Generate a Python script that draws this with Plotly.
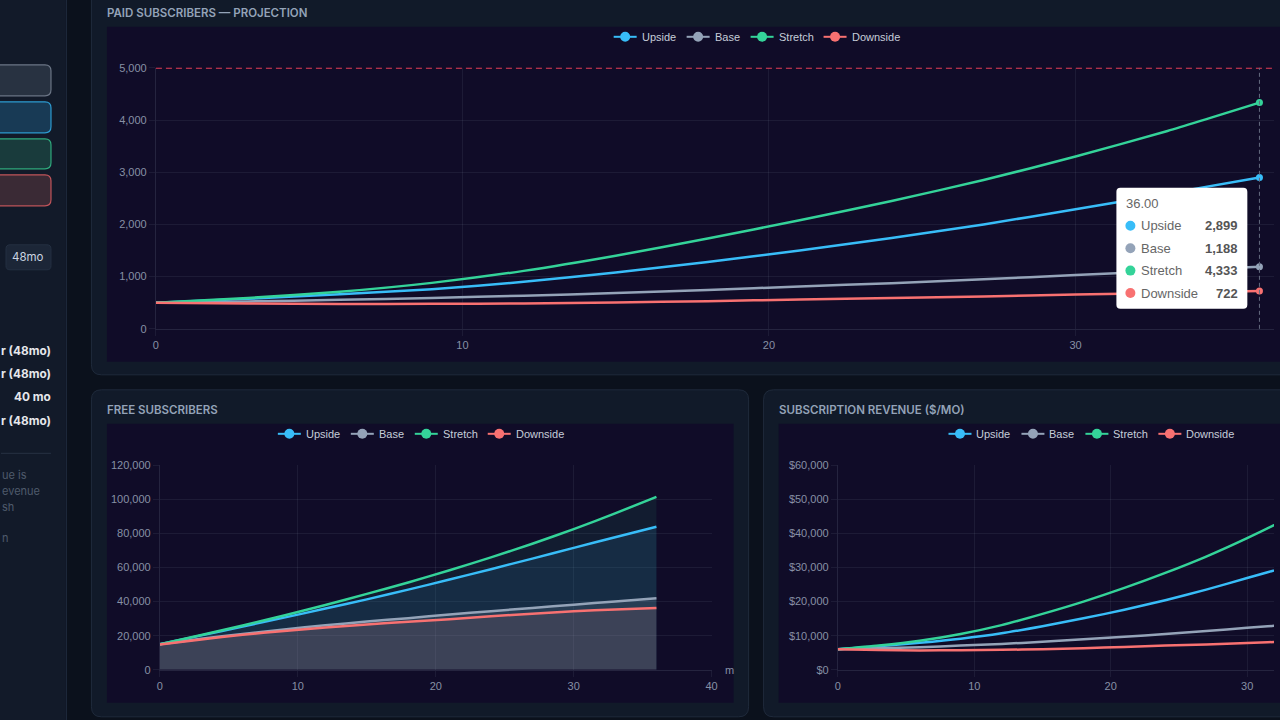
import plotly.graph_objects as go

W, H = 1280, 720

# month axis, every 3 months
months = [0, 3, 6, 9, 12, 15, 18, 21, 24, 27, 30, 33, 36]

paid_upside = [500, 575, 660, 760, 900, 1080, 1280, 1500, 1740, 2000, 2290, 2590, 2899]
paid_base = [500, 525, 555, 590, 635, 685, 745, 810, 875, 950, 1030, 1110, 1188]
paid_stretch = [500, 590, 710, 880, 1110, 1400, 1730, 2080, 2450, 2850, 3300, 3790, 4333]
paid_downside = [500, 485, 475, 478, 485, 505, 530, 560, 590, 620, 655, 690, 722]
paid_target = 5000

free_upside = [15000, 20200, 25400, 30600, 35900, 41300, 47000, 52900, 59000, 65200, 71500, 77700, 83900]
free_base = [15000, 18200, 21000, 23700, 26100, 28300, 30300, 32400, 34400, 36300, 38200, 40100, 41900]
free_stretch = [15000, 20400, 26000, 31800, 38000, 44500, 51200, 58400, 65900, 73900, 82500, 91700, 101400]
free_downside = [14800, 17800, 20500, 22800, 24800, 26600, 28200, 29700, 31400, 32900, 34300, 35400, 36300]

rev_upside = [6000, 6900, 7900, 9100, 10700, 12800, 15100, 17600, 20400, 23500, 26900, 30300, 34000]
rev_base = [6000, 6300, 6650, 7100, 7600, 8200, 8950, 9700, 10500, 11400, 12300, 13200, 14200]
rev_stretch = [6000, 7100, 8500, 10500, 13100, 16400, 20000, 24000, 28400, 33200, 38600, 44500, 51000]
rev_downside = [6000, 5800, 5700, 5750, 5850, 6050, 6350, 6700, 7100, 7450, 7850, 8300, 8700]

scenarios = ["Upside", "Base", "Stretch", "Downside"]
colors = {"Upside": "#38bdf8", "Base": "#94a3b8", "Stretch": "#34d399", "Downside": "#f87171"}
fills = {"Upside": "rgba(56,189,248,0.10)", "Base": "rgba(148,163,184,0.15)",
         "Stretch": "rgba(52,211,153,0.08)", "Downside": "rgba(248,113,113,0.10)"}

paid = dict(zip(scenarios, [paid_upside, paid_base, paid_stretch, paid_downside]))
free = dict(zip(scenarios, [free_upside, free_base, free_stretch, free_downside]))
rev = dict(zip(scenarios, [rev_upside, rev_base, rev_stretch, rev_downside]))

PAGE = "#0b111c"
SIDE = "#121a29"
CARD = "#111a29"
CARD_LINE = "#1f2a3b"
CANVAS = "#100c28"
GRID = "rgba(148,163,184,0.10)"
TICK = "#8790a5"
FONT = "Liberation Sans, Arial, sans-serif"
TFONT = "Inter, sans-serif"

# the screenshot comes out slightly shrunk and shifted, so positions
# (given in screenshot pixels) are mapped back to figure pixels here
SX, OX = 0.9935, 2.0
SY, OY = 0.9833, 6.2


def fx(p):
    return (p - OX) / SX / W


def fy(p):
    return 1 - (p - OY) / SY / H


def right_edge():
    # screenshot pixel where the figure ends on the right
    return SX * W + OX


def rounded(x0, y0, x1, y1, r):
    return (f"M {fx(x0 + r)},{fy(y0)} L {fx(x1 - r)},{fy(y0)} Q {fx(x1)},{fy(y0)} {fx(x1)},{fy(y0 + r)} "
            f"L {fx(x1)},{fy(y1 - r)} Q {fx(x1)},{fy(y1)} {fx(x1 - r)},{fy(y1)} "
            f"L {fx(x0 + r)},{fy(y1)} Q {fx(x0)},{fy(y1)} {fx(x0)},{fy(y1 - r)} "
            f"L {fx(x0)},{fy(y0 + r)} Q {fx(x0)},{fy(y0)} {fx(x0 + r)},{fy(y0)} Z")


shapes = []
annotations = []


def box(x0, y0, x1, y1, r, fill, line=None, lw=1, layer="below"):
    shapes.append(dict(type="path", path=rounded(x0, y0, x1, y1, r), xref="paper", yref="paper",
                       fillcolor=fill, line=dict(color=line or fill, width=lw if line else 0), layer=layer))


def label(x, y, text, size=11, color=TICK, anchor="left", family=FONT, weight=None):
    f = dict(size=size, color=color, family=family)
    if weight:
        f["weight"] = weight
    # annotation boxes carry ~2px of padding, take it back out
    x = x - 2 if anchor == "left" else x + 2 if anchor == "right" else x
    annotations.append(dict(x=fx(x), y=fy(y), xref="paper", yref="paper", text=text, showarrow=False,
                            xanchor=anchor, yanchor="middle", font=f))


def dot(cx, cy, r, color):
    shapes.append(dict(type="circle", xref="paper", yref="paper", x0=fx(cx - r), x1=fx(cx + r),
                       y0=fy(cy + r), y1=fy(cy - r), fillcolor=color, line=dict(width=0), layer="above"))


def legend_row(x, y):
    # chart.js style legend: short line with a dot, then the name
    for off, s in zip([0, 73, 137, 210], scenarios):
        shapes.append(dict(type="line", xref="paper", yref="paper", x0=fx(x + off), x1=fx(x + off + 23),
                           y0=fy(y), y1=fy(y), line=dict(color=colors[s], width=2), layer="above"))
        dot(x + off + 11.5, y, 5, colors[s])
        label(x + off + 28, y, s, size=11, color="#c6cdd9")


# sidebar
shapes.append(dict(type="rect", xref="paper", yref="paper", x0=-0.01, x1=fx(65), y0=-0.01, y1=1.01,
                   fillcolor=SIDE, line=dict(width=0), layer="below"))
shapes.append(dict(type="line", xref="paper", yref="paper", x0=fx(65.5), x1=fx(65.5), y0=-0.01, y1=1.01,
                   line=dict(color="#1e293b", width=1), layer="below"))
box(-20, 65, 50, 96, 6, "#283241", "#6b7585", 1.2)
box(-20, 102, 50, 133, 6, "#183a55", "#2c9ad0", 1.2)
box(-20, 139, 50, 169, 6, "#193b3c", "#2fa97c", 1.2)
box(-20, 175, 50, 206, 6, "#3a2a35", "#c0545a", 1.2)
box(5, 245, 50, 270, 4, "#1c2637", "#243042", 1)
label(27.5, 257.5, "48mo", size=11.5, color="#cbd5e1", anchor="center", family=TFONT)
# the sidebar is cut off in the screenshot; only the tails of its lines show
for yy, t in [(351, "r (48mo)"), (374, "r (48mo)"), (397, "40 mo"), (421, "r (48mo)")]:
    label(50, yy, t, size=11.8, color="#e5e7eb", anchor="right", family=TFONT, weight=700)
shapes.append(dict(type="line", xref="paper", yref="paper", x0=fx(0), x1=fx(50), y0=fy(453.5), y1=fy(453.5),
                   line=dict(color="#263143", width=1), layer="below"))
for yy, t in [(475, "ue is"), (491, "evenue"), (507, "sh"), (538, "n")]:
    label(1, yy, t, size=11, color="#4f5a6c", family=TFONT)

# cards and canvases
box(90.5, -20, 1320, 375, 10, CARD, CARD_LINE)
box(90.5, 390, 748, 717, 10, CARD, CARD_LINE)
box(763, 390, 1320, 717, 10, CARD, CARD_LINE)
for x0, y0, x1, y1 in [(106, 27, 1320, 362), (106, 424, 733, 703), (778, 424, 1320, 703)]:
    shapes.append(dict(type="rect", xref="paper", yref="paper", x0=fx(x0), x1=fx(x1), y0=fy(y1), y1=fy(y0),
                       fillcolor=CANVAS, line=dict(width=0), layer="below"))

label(106, 13, "PAID SUBSCRIBERS — PROJECTION", size=11.5, color="#94a3b8", family=TFONT, weight=600)
label(106, 410, "FREE SUBSCRIBERS", size=11.5, color="#94a3b8", family=TFONT, weight=600)
label(778, 410, "SUBSCRIPTION REVENUE ($/MO)", size=11.5, color="#94a3b8", family=TFONT, weight=600)
label(729, 670, "m", size=11, color=TICK, anchor="center")

legend_row(613, 37)
legend_row(277, 434)
legend_row(948, 434)

fig = go.Figure()

# paid subscribers
for s in scenarios:
    fig.add_trace(go.Scatter(x=months, y=paid[s], mode="lines", line=dict(color=colors[s], width=2.5, shape="spline", smoothing=0.6),
                             xaxis="x", yaxis="y", hoverinfo="skip"))
for s in scenarios:
    fig.add_trace(go.Scatter(x=[months[-1]], y=[paid[s][-1]], mode="markers", marker=dict(color=colors[s], size=7),
                             xaxis="x", yaxis="y", hoverinfo="skip"))

# free subscribers: fills first, then lines
for s in ["Stretch", "Upside", "Base", "Downside"]:
    fig.add_trace(go.Scatter(x=months, y=free[s], mode="none", fill="tozeroy", fillcolor=fills[s],
                             line=dict(shape="spline", smoothing=0.6), xaxis="x2", yaxis="y2", hoverinfo="skip"))
for s in scenarios:
    fig.add_trace(go.Scatter(x=months, y=free[s], mode="lines", line=dict(color=colors[s], width=2.5, shape="spline", smoothing=0.6),
                             xaxis="x2", yaxis="y2", hoverinfo="skip"))

# revenue
for s in scenarios:
    fig.add_trace(go.Scatter(x=months, y=rev[s], mode="lines", line=dict(color=colors[s], width=2.5, shape="spline", smoothing=0.6),
                             xaxis="x3", yaxis="y3", hoverinfo="skip"))

# target line, hover guide and tooltip on the top chart
shapes.append(dict(type="line", xref="x domain", yref="y", x0=0, x1=1, y0=paid_target, y1=paid_target,
                   line=dict(color="#e23c56", width=2, dash="6px,4px"), layer="above"))
shapes.append(dict(type="line", xref="x", yref="y domain", x0=months[-1], x1=months[-1], y0=0, y1=1,
                   line=dict(color="#646c80", width=1, dash="4px,3px"), layer="above"))
box(1116, 188, 1247, 309, 4, "#ffffff", layer="above")
label(1126, 204, f"{months[-1]:.2f}", size=13, color="#666666")
for i, s in enumerate(scenarios):
    yy = 226 + i * 22.4
    dot(1130, yy, 5, colors[s])
    label(1141, yy, s, size=13, color="#666666")
    label(1238, yy, f"<b>{paid[s][-1]:,}</b>", size=13, color="#555555", anchor="right")

axis = dict(showgrid=True, gridcolor=GRID, gridwidth=1, showline=True, linecolor="rgba(148,163,184,0.16)",
            linewidth=1, ticks="outside", ticklen=6, tickcolor=GRID, zeroline=False,
            tickfont=dict(size=11, color=TICK, family=FONT))

# px per month in the screenshot: top chart 30.67, bottom charts 13.8 and 13.65
fig.update_layout(
    width=W, height=H,
    margin=dict(l=0, r=0, t=0, b=0),
    paper_bgcolor=PAGE, plot_bgcolor="rgba(0,0,0,0)",
    showlegend=False,
    xaxis=dict(axis, domain=[fx(155), 1], range=[0, (right_edge() - 155) / 30.67], dtick=10, anchor="y"),
    yaxis=dict(axis, domain=[fy(329), fy(68)], range=[0, 5000], dtick=1000, tickformat=",d", anchor="x"),
    xaxis2=dict(axis, domain=[fx(159), fx(711)], range=[0, 40], dtick=10, anchor="y2"),
    yaxis2=dict(axis, domain=[fy(670), fy(465.3)], range=[0, 120000], dtick=20000, tickformat=",d", anchor="x2"),
    xaxis3=dict(axis, domain=[fx(837.3), 1], range=[0, (right_edge() - 837.3) / 13.65], dtick=10, anchor="y3"),
    yaxis3=dict(axis, domain=[fy(670), fy(465.3)], range=[0, 60000], dtick=10000, tickformat=",d",
                tickprefix="$", anchor="x3"),
    shapes=shapes,
    annotations=annotations,
    hovermode=False,
)

# no body margin, dark page behind the figure, no modebar
fig.write_html(
    "out.html",
    config={"displayModeBar": False},
    post_script=("document.body.style.margin='0';document.body.style.overflow='hidden';"
                 "document.body.style.background='#111a29';"
                 "document.documentElement.style.background='#111a29';"),
)
